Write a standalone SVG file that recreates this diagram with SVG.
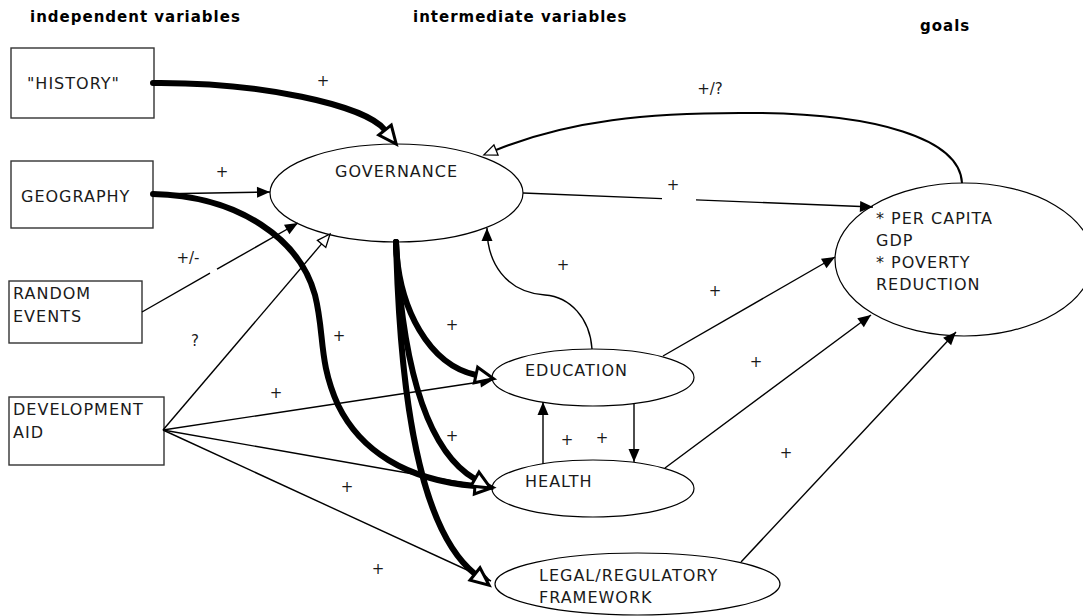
<svg xmlns="http://www.w3.org/2000/svg" width="1083" height="616" viewBox="0 0 1083 616">
<style>
  .title { font-family: "DejaVu Sans", Verdana, sans-serif; font-weight: bold; font-size: 15px; letter-spacing: 1px; fill: #000; }
  .lbl { font-family: "DejaVu Sans", Verdana, sans-serif; font-size: 16px; letter-spacing: 1px; fill: #1a1a1a; }
  .sign { font-family: "DejaVu Sans", Verdana, sans-serif; font-size: 15px; fill: #1a1a1a; text-anchor: middle; }
  .box { fill: #fff; stroke: #333; stroke-width: 1.4; }
  .ell { fill: #fff; stroke: #000; stroke-width: 1.2; }
  .thin { fill: none; stroke: #000; stroke-width: 1.4; }
  .arc { fill: none; stroke: #000; stroke-width: 2; }
  .thick { fill: none; stroke: #000; stroke-width: 6; stroke-linecap: round; }
</style>
<defs>
  <marker id="openThick" markerUnits="userSpaceOnUse" viewBox="-3 -12 28 24" refX="0" refY="0" markerWidth="28" markerHeight="24" orient="auto">
    <path d="M0,-8 L18,0 L0,8 Z" fill="#fff" stroke="#000" stroke-width="3"/>
  </marker>
  <marker id="openThin" markerUnits="userSpaceOnUse" viewBox="-2 -8 18 16" refX="0" refY="0" markerWidth="18" markerHeight="16" orient="auto">
    <path d="M0,-5.5 L13,0 L0,5.5 Z" fill="#fff" stroke="#000" stroke-width="1.3"/>
  </marker>
  <marker id="fill" markerUnits="userSpaceOnUse" viewBox="-14 -7 15 14" refX="0" refY="0" markerWidth="15" markerHeight="14" orient="auto">
    <path d="M-13,-5.5 L0,0 L-13,5.5 Z" fill="#000"/>
  </marker>
</defs>

<g id="titles">
  <text class="title" x="30" y="22">independent variables</text>
  <text class="title" x="413" y="22">intermediate variables</text>
  <text class="title" x="920" y="31">goals</text>
</g>

<g id="node-history">
  <rect class="box" x="11" y="48" width="143" height="70"/>
  <text class="lbl" x="27" y="89">"HISTORY"</text>
</g>
<g id="node-geography">
  <rect class="box" x="11" y="161" width="142" height="67"/>
  <text class="lbl" x="21" y="202">GEOGRAPHY</text>
</g>
<g id="node-random">
  <rect class="box" x="9" y="281" width="133" height="62"/>
  <text class="lbl" x="13" y="299">RANDOM</text>
  <text class="lbl" x="13" y="322">EVENTS</text>
</g>
<g id="node-aid">
  <rect class="box" x="9" y="397" width="155" height="68"/>
  <text class="lbl" x="13" y="415">DEVELOPMENT</text>
  <text class="lbl" x="13" y="438">AID</text>
</g>
<g id="node-governance">
  <ellipse class="ell" cx="396.5" cy="193" rx="126.5" ry="49"/>
  <text class="lbl" x="335" y="177">GOVERNANCE</text>
</g>
<g id="node-goals">
  <ellipse class="ell" cx="964" cy="259.5" rx="129" ry="76.5"/>
  <text class="lbl" x="876" y="224">* PER CAPITA</text>
  <text class="lbl" x="876" y="246">GDP</text>
  <text class="lbl" x="876" y="268">* POVERTY</text>
  <text class="lbl" x="876" y="290">REDUCTION</text>
</g>
<g id="node-education">
  <ellipse class="ell" cx="593" cy="377.5" rx="101" ry="28.5"/>
  <text class="lbl" x="525" y="376">EDUCATION</text>
</g>
<g id="node-health">
  <ellipse class="ell" cx="593" cy="488.5" rx="101" ry="28.5"/>
  <text class="lbl" x="525" y="487">HEALTH</text>
</g>
<g id="node-legal">
  <ellipse class="ell" cx="637.5" cy="584" rx="142.5" ry="31"/>
  <text class="lbl" x="539" y="581">LEGAL/REGULATORY</text>
  <text class="lbl" x="539" y="603">FRAMEWORK</text>
</g>

<g id="connectors">
  <!-- thin connectors -->
  <path class="thin" d="M153,194 L270,192" marker-end="url(#fill)"/>
  <path class="thin" d="M142,312 L210,273.2"/>
  <path class="thin" d="M217,269.2 L298,223" marker-end="url(#fill)"/>
  <path class="thin" d="M163,430 L321.6,243.9" marker-end="url(#openThin)"/>
  <path class="thin" d="M163,430 L493,380" marker-end="url(#fill)"/>
  <path class="thin" d="M163,430 L493,488" marker-end="url(#fill)"/>
  <path class="thin" d="M163,430 L491,581" marker-end="url(#fill)"/>
  <path class="thin" d="M523,193 L662,198.6"/>
  <path class="thin" d="M696,199.9 L873,207" marker-end="url(#fill)"/>
  <path class="thin" d="M592,349 C590,318 570,297 545,295 C505,292 487,262 487,228" marker-end="url(#fill)"/>
  <path class="thin" d="M543,464 L543,402" marker-end="url(#fill)"/>
  <path class="thin" d="M634,404 L634,462" marker-end="url(#fill)"/>
  <path class="thin" d="M663,356 L835,257" marker-end="url(#fill)"/>
  <path class="thin" d="M665,468 L871,315" marker-end="url(#fill)"/>
  <path class="thin" d="M741,562 L956,332" marker-end="url(#fill)"/>
  <path class="arc" d="M962,183 C960,140 880,112 740,113 C650,113 570,120 496,150" marker-end="url(#openThin)"/>
  <!-- thick connectors -->
  <path class="thick" d="M153,83 C260,82 365,105 385,130" marker-end="url(#openThick)"/>
  <path class="thick" d="M153,194 C240,196 300,240 315,295 C325,335 318,360 338,405 C360,450 405,480 475,486" marker-end="url(#openThick)"/>
  <path class="thick" d="M396,242 C398,310 430,365 476,375" marker-end="url(#openThick)"/>
  <path class="thick" d="M396,242 C402,360 425,450 475,479" marker-end="url(#openThick)"/>
  <path class="thick" d="M396,242 C400,400 420,530 475,574" marker-end="url(#openThick)"/>
</g>

<g id="labels">
  <text class="sign" x="323" y="86">+</text>
  <text class="sign" x="222" y="177">+</text>
  <text class="sign" x="188" y="263">+/-</text>
  <text class="sign" x="195" y="346">?</text>
  <text class="sign" x="339" y="341">+</text>
  <text class="sign" x="452" y="330">+</text>
  <text class="sign" x="276" y="398">+</text>
  <text class="sign" x="452" y="441">+</text>
  <text class="sign" x="347" y="492">+</text>
  <text class="sign" x="378" y="574">+</text>
  <text class="sign" x="563" y="270">+</text>
  <text class="sign" x="673" y="190">+</text>
  <text class="sign" x="710" y="94">+/?</text>
  <text class="sign" x="715" y="296">+</text>
  <text class="sign" x="756" y="367">+</text>
  <text class="sign" x="786" y="458">+</text>
  <text class="sign" x="567" y="445">+</text>
  <text class="sign" x="602" y="443">+</text>
</g>
</svg>
